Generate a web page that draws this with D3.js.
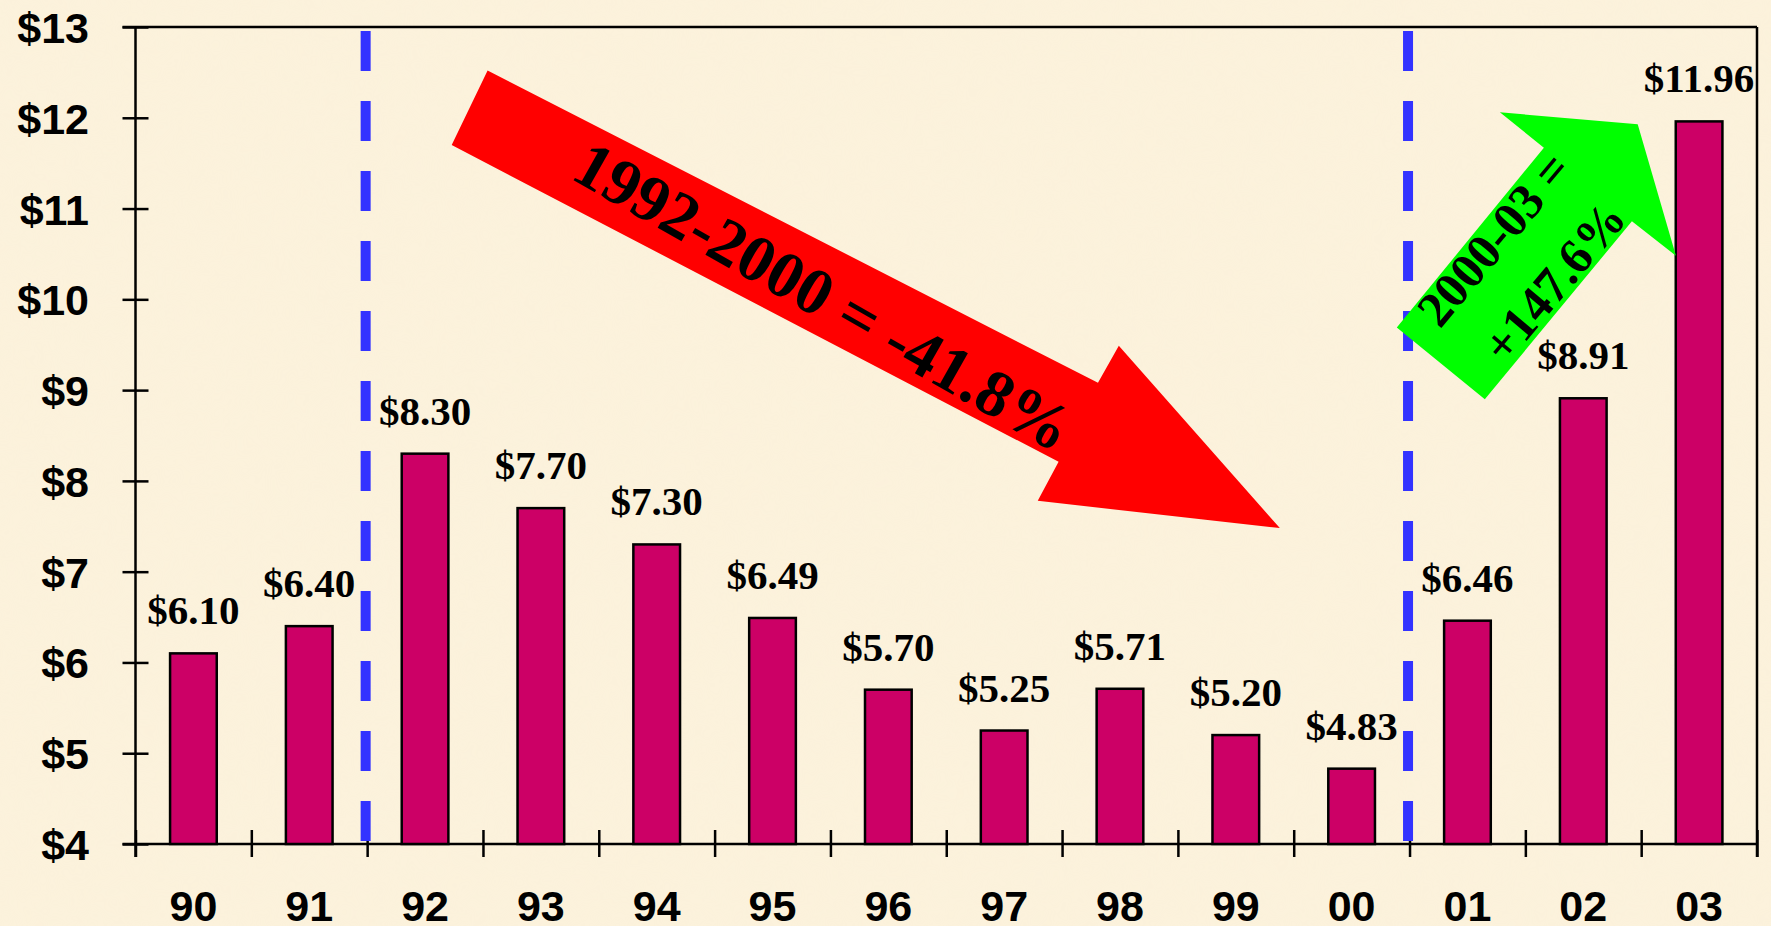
<!DOCTYPE html>
<html>
<head>
<meta charset="utf-8">
<script src="https://cdn.jsdelivr.net/npm/d3@7"></script>
<style>
  html, body { margin: 0; padding: 0; background: #fbf0d7; }
  svg { display: block; }
  .axis path { display: none; }
  .axis line { stroke: #000; stroke-width: 2.5px; }
  .ylab text, .xlab text { font-family: "Liberation Sans", Arial, sans-serif; font-weight: bold; font-size: 43px; fill: #000; }
  .val { font-family: "Liberation Serif", "Times New Roman", serif; font-weight: bold; font-size: 41px; fill: #000; }
  .note { font-family: "Liberation Serif", "Times New Roman", serif; font-weight: bold; fill: #000; }
</style>
</head>
<body>
<div id="container"></div>
<script>
// chart data
const years = ["90", "91", "92", "93", "94", "95", "96", "97", "98", "99", "00", "01", "02", "03"];
const prices = [6.10, 6.40, 8.30, 7.70, 7.30, 6.49, 5.70, 5.25, 5.71, 5.20, 4.83, 6.46, 8.91, 11.96];
const yTicks = [4, 5, 6, 7, 8, 9, 10, 11, 12, 13];
const periodBreaks = [2, 11]; // dashed lines before 92 and before 01

// arrows in data units: [slot position, price]
const downArrow = [[3.04, 12.52], [8.31, 9.08], [8.49, 9.49], [9.88, 7.48], [7.79, 7.78], [7.97, 8.21], [2.73, 11.70]];
const upArrow = [[10.89, 9.69], [12.16, 11.67], [11.78, 12.06], [12.97, 11.93], [13.30, 10.48], [12.92, 10.86], [11.65, 8.90]];
const downText = "1992-2000 = -41.8%";
const upText = ["2000-03 =", "+147.6%"];

const width = 1771;
const height = 926;
const margin = { left: 135.5, right: 14, top: 27, bottom: 82 };

const svg = d3.select('#container').append('svg')
              .attr('width', width)
              .attr('height', height);

// parchment background
const defs = svg.append('defs');
const f = defs.append('filter').attr('id', 'paper');
f.append('feTurbulence').attr('type', 'fractalNoise').attr('baseFrequency', 0.02).attr('numOctaves', 3).attr('seed', 4);
f.append('feColorMatrix').attr('type', 'matrix')
 .attr('values', '0 0 0 0 0.93  0 0 0 0 0.86  0 0 0 0 0.68  0 0 0 0.35 0');
svg.append('rect').attr('width', width).attr('height', height).attr('fill', '#fcf2dc');
svg.append('rect').attr('width', width).attr('height', height).attr('filter', 'url(#paper)').attr('opacity', 0.5);

const x = d3.scaleBand().domain(years).range([margin.left, width - margin.right]);
const slot = d3.scaleLinear().domain([0, years.length]).range([margin.left, width - margin.right]);
const y = d3.scaleLinear().domain([4, 13]).range([height - margin.bottom, margin.top]);

const barW = x.bandwidth() * 0.403;

// frame top and right
svg.append('line')
   .attr('x1', margin.left - 13).attr('x2', width - margin.right)
   .attr('y1', y(13)).attr('y2', y(13))
   .attr('stroke', '#000').attr('stroke-width', 2.5);
svg.append('line')
   .attr('x1', width - margin.right).attr('x2', width - margin.right)
   .attr('y1', y(13)).attr('y2', y(4) + 13)
   .attr('stroke', '#000').attr('stroke-width', 2.5);

// y axis
const yAxis = svg.append('g')
   .attr('class', 'axis ylab')
   .attr('transform', `translate(${margin.left},0)`)
   .call(d3.axisLeft(y).tickValues(yTicks).tickSize(13).tickPadding(33.5).tickFormat(d => '$' + d));
yAxis.selectAll('.tick line').attr('x1', 13);
yAxis.selectAll('.tick text').attr('dy', '0.36em');
svg.append('line')
   .attr('x1', margin.left).attr('x2', margin.left)
   .attr('y1', y(13)).attr('y2', y(4) + 13)
   .attr('stroke', '#000').attr('stroke-width', 2.5);

// x axis ticks at slot boundaries
const xTickAxis = svg.append('g')
   .attr('class', 'axis')
   .attr('transform', `translate(0,${y(4)})`)
   .call(d3.axisBottom(slot).tickValues(d3.range(0, years.length + 1)).tickSize(13).tickFormat(''));
xTickAxis.selectAll('.tick line').attr('y1', -14);
svg.append('line')
   .attr('x1', margin.left - 13).attr('x2', width - margin.right)
   .attr('y1', y(4)).attr('y2', y(4))
   .attr('stroke', '#000').attr('stroke-width', 2.5);

// x labels
svg.append('g')
   .attr('class', 'axis xlab')
   .attr('transform', `translate(0,${y(4)})`)
   .call(d3.axisBottom(x).tickSize(0).tickPadding(46));

// dashed period lines
svg.selectAll('.period')
   .data(periodBreaks)
   .enter()
   .append('line')
   .attr('class', 'period')
   .attr('x1', d => slot(d) - 1.5).attr('x2', d => slot(d) - 1.5)
   .attr('y1', y(13) + 4).attr('y2', y(4) - 3)
   .attr('stroke', '#3333ff')
   .attr('stroke-width', 10)
   .attr('stroke-dasharray', '40,30');

// bars
svg.selectAll('.bar')
   .data(prices)
   .enter()
   .append('rect')
   .attr('class', 'bar')
   .attr('x', (d, i) => x(years[i]) + (x.bandwidth() - barW) / 2)
   .attr('y', d => y(d))
   .attr('width', barW)
   .attr('height', d => y(4) - y(d))
   .attr('fill', '#cc0066')
   .attr('stroke', '#000')
   .attr('stroke-width', 2.5);

svg.selectAll('.val')
   .data(prices)
   .enter()
   .append('text')
   .attr('class', 'val')
   .attr('x', (d, i) => x(years[i]) + x.bandwidth() / 2)
   .attr('y', d => y(d) - 29)
   .attr('text-anchor', 'middle')
   .text(d => '$' + d.toFixed(2));

// arrows
const line = d3.line().x(d => slot(d[0])).y(d => y(d[1]));
svg.append('path')
   .attr('d', line(downArrow) + 'Z')
   .attr('fill', '#ff0000');
svg.append('path')
   .attr('d', line(upArrow) + 'Z')
   .attr('fill', '#00ff00');

svg.append('text')
   .attr('class', 'note')
   .attr('transform', `translate(${slot(5.94)},${y(10.03)}) rotate(29.5)`)
   .attr('text-anchor', 'middle')
   .attr('dy', '0.33em')
   .style('font-size', '66px')
   .text(downText);

const upCenters = [[11.73, 10.66], [12.25, 10.19]];
svg.selectAll('.upnote')
   .data(upText)
   .enter()
   .append('text')
   .attr('class', 'note upnote')
   .attr('transform', (d, i) => `translate(${slot(upCenters[i][0])},${y(upCenters[i][1])}) rotate(-50)`)
   .attr('text-anchor', 'middle')
   .attr('dy', '0.33em')
   .style('font-size', '50px')
   .text(d => d);
</script>
</body>
</html>
